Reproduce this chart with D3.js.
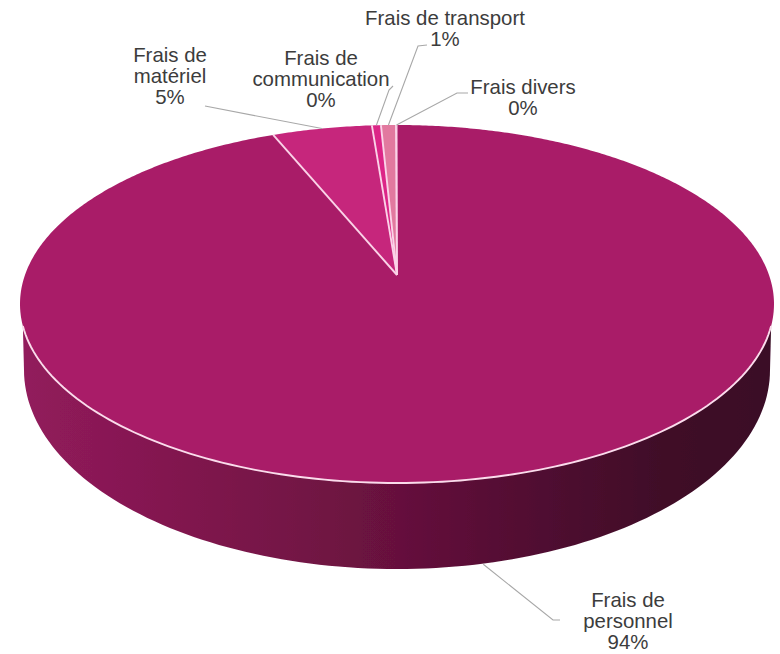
<!DOCTYPE html>
<html><head><meta charset="utf-8">
<script src="https://cdn.jsdelivr.net/npm/d3@7"></script>
<style>html,body{margin:0;padding:0;background:#fff}svg{display:block}text{font-family:"Liberation Sans",Arial,sans-serif;font-size:20.4px;fill:#3c3c3c;text-anchor:middle}</style>
</head><body><svg id="c" width="780" height="654"></svg>
<script>
// data
const categories = ["Frais de personnel","Frais de matériel","Frais de communication","Frais de transport","Frais divers"];
const shares = [93.75,5,0.45,0.75,0.05];
const sliceColors = ["#a91f68","#c6267b","#dc2587","#e2799f","#b5246f"];
const labelLines = [["Frais de","personnel"],["Frais de","matériel"],["Frais de","communication"],["Frais de transport"],["Frais divers"]];
const labelCenters = [[628,600],[170,55],[321,58],[445,18],[523,87]];
const elbows = [[[553,620],[560,620]],[[205,106]],[[389,90],[393,86]],[[418,46],[427,45]],[[457,93],[468,93]]];
const sideStops = [[0,"#921b5c"],[0.2,"#82174f"],[0.45,"#6c1240"],[0.65,"#540e33"],[0.85,"#400a28"],[1,"#3a0a26"]];

const apex={x:397,y:275}, face={rx:377,top:125,bottom:483}, low={cy:370,rx:373,ry:199}, depth=86;
const near=face.bottom-apex.y, far=apex.y-face.top;
const kk=(far-near)/(far+near);           // perspective factor
const ry=far*(1-kk);                      // unit circle radius, y
const Rx=face.rx*Math.sqrt(1-kk*kk);      // unit circle radius, x
function project(a){const s=Math.sin(a),c=-Math.cos(a),d=1+kk*c;return [apex.x+Rx*s/d,apex.y+ry*c/d];}
const faceCy=(face.top+face.bottom)/2, faceRy=(face.bottom-face.top)/2;

const svg=d3.select("#c");
const defs=svg.append("defs");
const grad=defs.append("linearGradient").attr("id","side").attr("gradientUnits","userSpaceOnUse")
  .attr("x1",20).attr("x2",774).attr("y1",0).attr("y2",0);
sideStops.forEach(s=>grad.append("stop").attr("offset",s[0]).attr("stop-color",s[1]));
defs.append("filter").attr("id","soft").append("feGaussianBlur").attr("stdDeviation",0.5);

const line=d3.line();
const g=svg.append("g").attr("filter","url(#soft)");

// side wall
const startY=326;
const phi=Math.asin((startY-faceCy)/faceRy);
const rim=d3.range(0,121).map(i=>{const t=phi+(Math.PI-2*phi)*i/120;return [apex.x+face.rx*Math.cos(t),faceCy+faceRy*Math.sin(t)];});
const base=d3.range(0,121).map(i=>{const t=Math.PI*i/120;return [apex.x+low.rx*Math.cos(t),low.cy+low.ry*Math.sin(t)];});
g.append("path").attr("d",line(rim.concat(base.slice().reverse()))+"Z").attr("fill","url(#side)");

// top slices
const arcs=d3.pie().sort(null).value(d=>d)(shares);
function slicePts(d){const n=Math.max(2,Math.ceil((d.endAngle-d.startAngle)/0.01));
  const pts=[[apex.x,apex.y]];
  for(let i=0;i<=n;i++)pts.push(project(d.startAngle+(d.endAngle-d.startAngle)*i/n));
  return pts;}
g.selectAll("path.slice").data(arcs).enter().append("path").attr("class","slice")
  .attr("d",d=>line(slicePts(d))+"Z").attr("fill",(d,i)=>sliceColors[i]);

// white seams and rim
g.selectAll("path.seam").data(arcs.slice(1)).enter().append("path").attr("class","seam")
  .attr("d",d=>line([[apex.x,apex.y],project(d.startAngle)]))
  .attr("stroke","#fbd3e8").attr("stroke-width",1.9).attr("fill","none");
g.append("path").attr("d",line([[apex.x,apex.y],project(0)])).attr("stroke","#fbd3e8").attr("stroke-width",1).attr("fill","none");
g.append("path").attr("d",line(rim)).attr("stroke","#fbdcec").attr("stroke-width",1.9).attr("fill","none");

// leaders
arcs.forEach((d,i)=>{
  const p=project((d.startAngle+d.endAngle)/2);
  if(i===0)p[1]+=depth;
  svg.append("path").attr("d",line([p,...elbows[i]])).attr("fill","none").attr("stroke","#a8a8a8").attr("stroke-width",1.1);
});

// labels
const lh=21;
categories.forEach((c,i)=>{
  const t=svg.append("text").attr("aria-label",c);
  const lines=[...labelLines[i],Math.round(shares[i])+"%"];
  lines.forEach((s,j)=>t.append("tspan").attr("x",labelCenters[i][0]).attr("y",labelCenters[i][1]+7+j*lh).text(s));
});
</script></body></html>
